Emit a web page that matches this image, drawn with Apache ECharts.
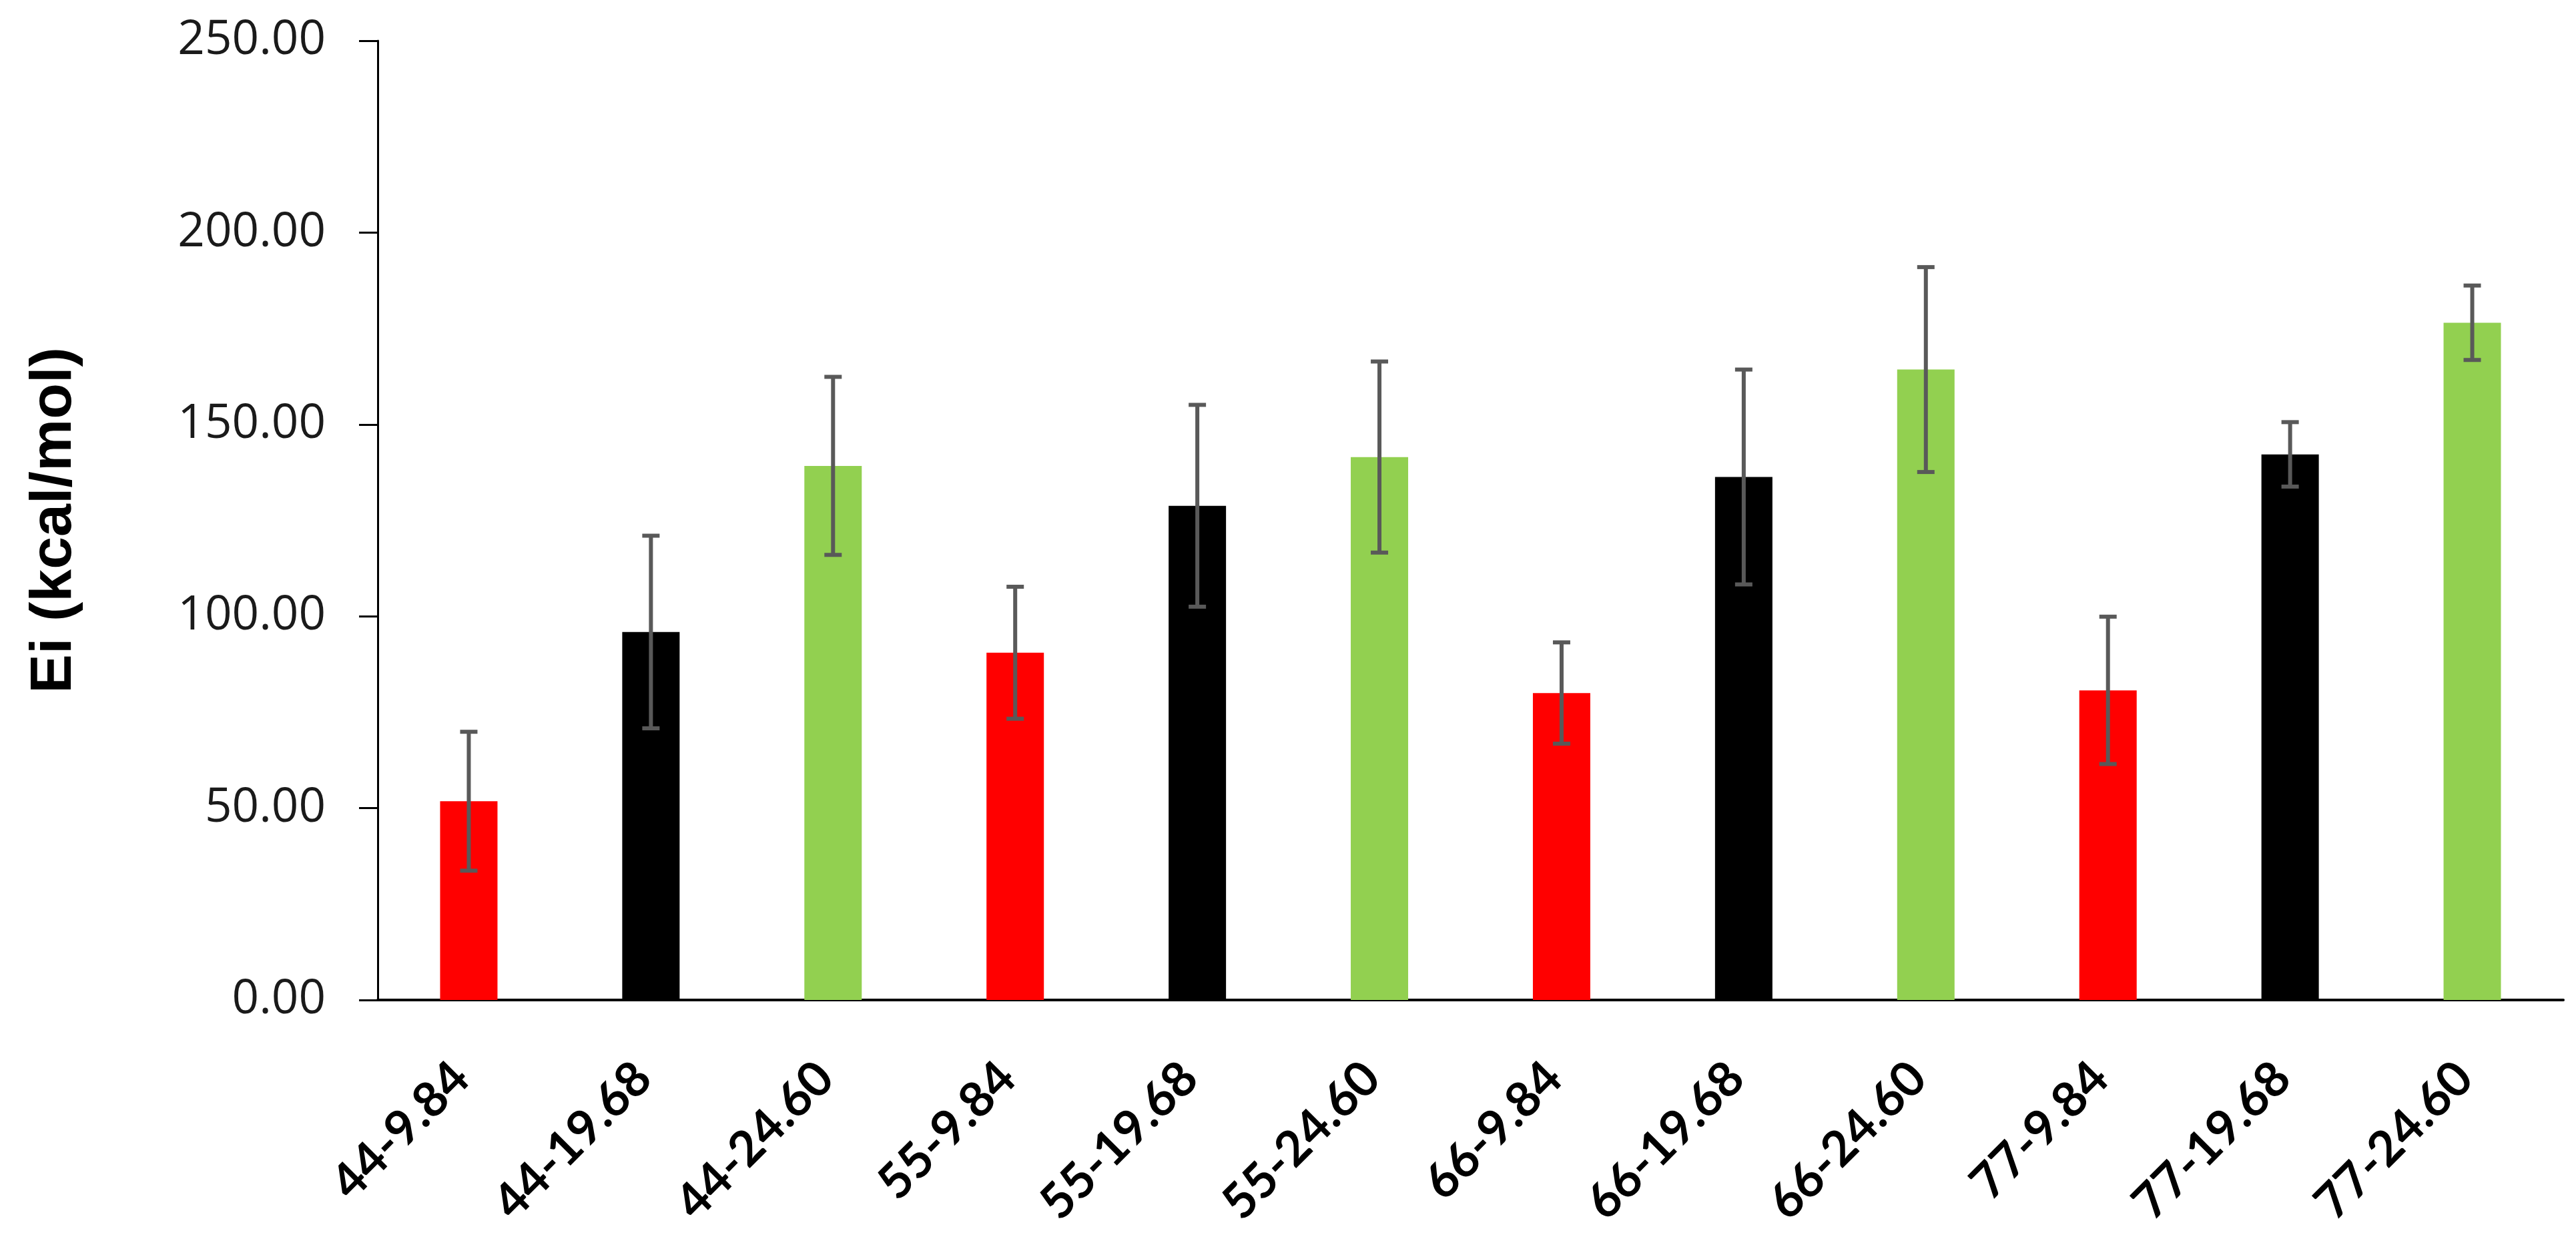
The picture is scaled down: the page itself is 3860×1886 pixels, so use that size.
<!DOCTYPE html>
<html>
<head>
<meta charset="utf-8">
<script src="https://cdn.jsdelivr.net/npm/echarts@6/dist/echarts.min.js"></script>
<style>
  html, body { margin: 0; padding: 0; background: #fff; }
  #chart { width: 3860px; height: 1886px; }
</style>
</head>
<body>
<div id="chart"></div>
<script>
// data
const categories = ['44-9.84', '44-19.68', '44-24.60', '55-9.84', '55-19.68', '55-24.60',
  '66-9.84', '66-19.68', '66-24.60', '77-9.84', '77-19.68', '77-24.60'];
const values = [51.8, 95.9, 139.2, 90.5, 128.8, 141.5, 80.0, 136.3, 164.3, 80.7, 142.2, 176.5];
const errors = [18.1, 25.1, 23.2, 17.2, 26.3, 24.9, 13.2, 28.0, 26.7, 19.2, 8.4, 9.7];
const yTicks = [0, 50, 100, 150, 200, 250];

// red / black / green repeat per group
const barColors = ['#ff0000', '#000000', '#92d050'];

let chart = echarts.init(document.getElementById('chart'))
chart.setOption({
  animation: false,
  backgroundColor: '#fff',
  grid: {
    left: 566,
    right: 19,
    top: 61,
    bottom: 388
  },
  xAxis: {
    type: 'category',
    data: categories,
    axisLine: { lineStyle: { color: '#000', width: 4 } },
    axisTick: { show: false },
    axisLabel: {
      rotate: 45,
      margin: 94,
      padding: [0, 16, 0, 0],
      color: '#000',
      fontFamily: 'Lato',
      fontWeight: 'bold',
      fontSize: 73
    }
  },
  yAxis: {
    type: 'value',
    min: yTicks[0],
    max: yTicks[yTicks.length - 1],
    interval: 50,
    name: 'Ei (kcal/mol)',
    nameLocation: 'middle',
    nameRotate: 90,
    nameGap: 440,
    nameTextStyle: {
      color: '#000',
      fontFamily: 'Liberation Sans',
      fontWeight: 'bold',
      fontSize: 88
    },
    splitLine: { show: false },
    axisLine: { show: true, lineStyle: { color: '#000', width: 3 } },
    axisTick: { show: true, length: 28, lineStyle: { color: '#000', width: 3 } },
    axisLabel: {
      margin: 78,
      color: '#1a1a1a',
      fontFamily: 'Open Sans',
      fontSize: 71,
      formatter: v => v.toFixed(2)
    }
  },
  series: [
    {
      type: 'bar',
      barWidth: 86,
      data: values.map((v, i) => ({ value: v, itemStyle: { color: barColors[i % 3] } }))
    },
    {
      type: 'custom',
      z: 5,
      encode: { x: 0, y: [1, 2] },
      data: values.map((v, i) => [i, v - errors[i], v + errors[i]]),
      renderItem: function (params, api) {
        const i = api.value(0)
        const lo = api.coord([i, api.value(1)])
        const hi = api.coord([i, api.value(2)])
        const half = 13
        const style = { stroke: '#595959', lineWidth: 6 }
        return {
          type: 'group',
          children: [
            { type: 'line', shape: { x1: hi[0], y1: hi[1], x2: lo[0], y2: lo[1] }, style: style },
            { type: 'line', shape: { x1: hi[0] - half, y1: hi[1], x2: hi[0] + half, y2: hi[1] }, style: style },
            { type: 'line', shape: { x1: lo[0] - half, y1: lo[1], x2: lo[0] + half, y2: lo[1] }, style: style }
          ]
        }
      }
    }
  ]
})
</script>
</body>
</html>
